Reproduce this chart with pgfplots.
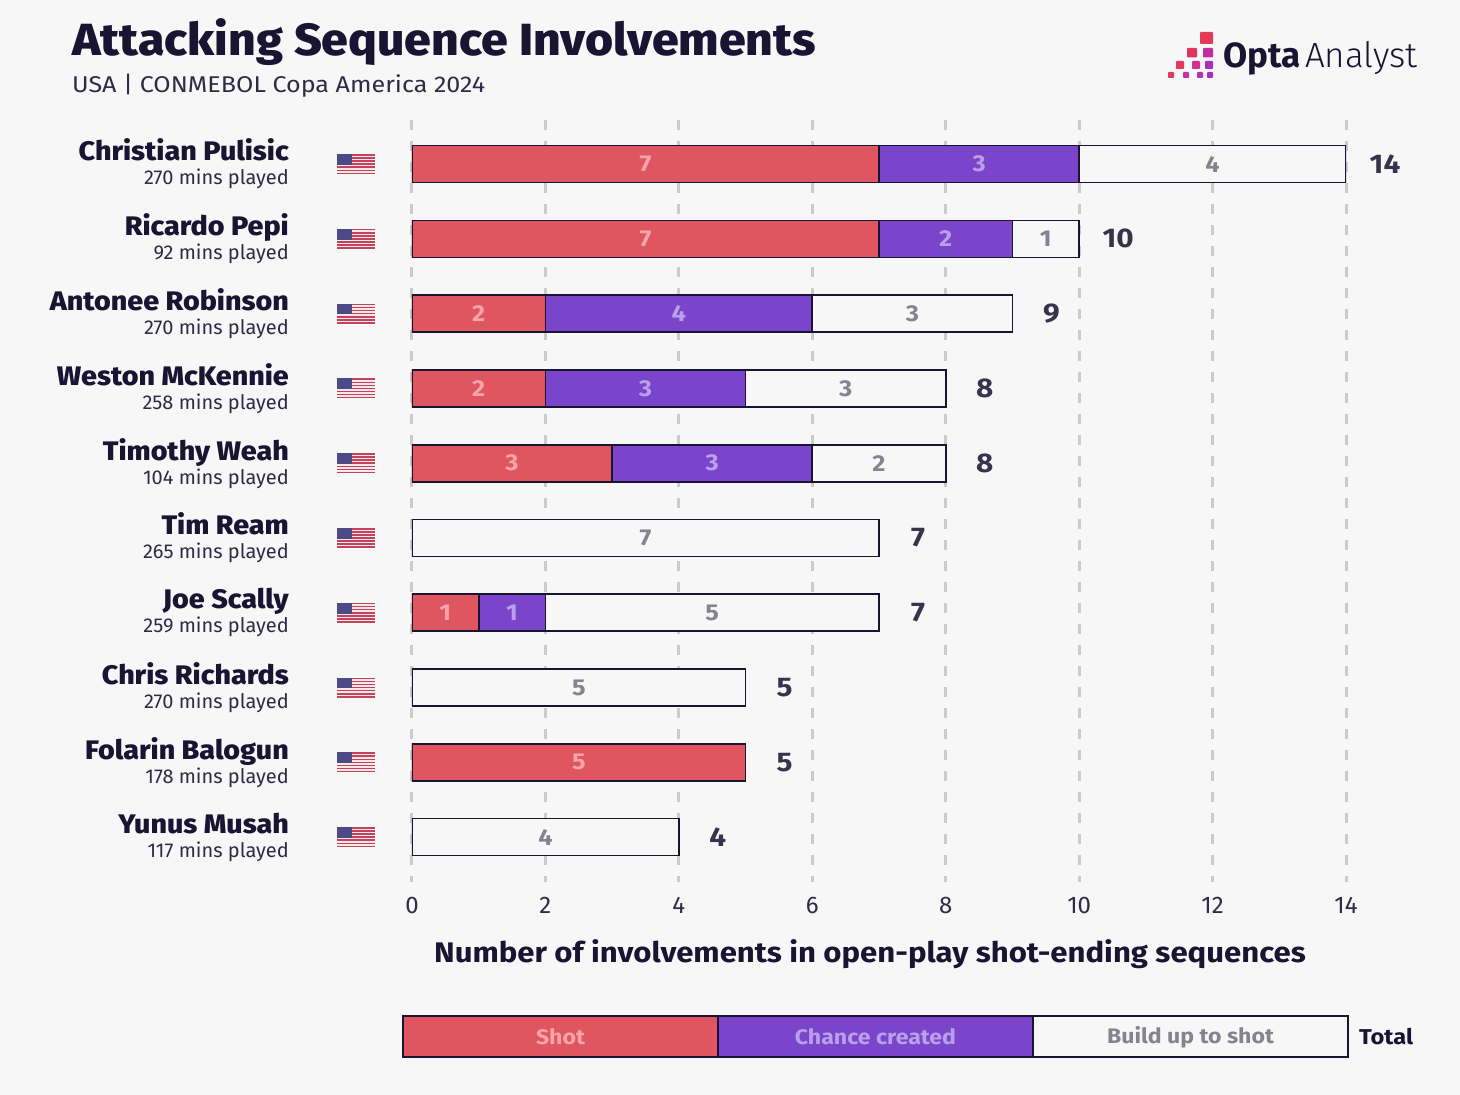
\documentclass[border=0pt]{standalone}
\usepackage{fontspec}
\usepackage{pgfplots}
\usepackage{pgfplotstable}
\pgfplotsset{compat=1.18}
\setmainfont[FakeStretch=1.1]{Fira Sans}
\newfontfamily\plainfont{Fira Sans}
\newfontfamily\logolight{Fira Sans Light}
\newfontfamily\heavy[FakeStretch=1.07]{Fira Sans ExtraBold}
\definecolor{bg}{HTML}{F7F7F8}
\definecolor{shot}{HTML}{DF5660}
\definecolor{chance}{HTML}{7B45CB}
\definecolor{ink}{HTML}{1A1433}
\definecolor{inksoft}{HTML}{2F2B45}
\definecolor{tot}{HTML}{37334C}
\definecolor{gridc}{HTML}{CBCBCC}
\definecolor{shotl}{HTML}{F7A3A8}
\definecolor{chancel}{HTML}{B9A0EA}
\definecolor{buildl}{HTML}{86838F}
\definecolor{flagr}{HTML}{C2445C}
\definecolor{flagw}{HTML}{F8E6E8}
\definecolor{flagb}{HTML}{4B4A85}
\newcommand{\pl}[2]{{\heavy\fontsize{26.8}{30}\selectfont\color{ink}#1}\\{\plainfont\fontsize{20}{23}\selectfont\color{inksoft}#2 mins played}}
\pgfdeclareplotmark{usflag}{%
  \pgfsetstrokecolor{flagw}\pgfsetfillcolor{flagw}
  \pgfpathrectangle{\pgfpoint{-19pt}{-10pt}}{\pgfpoint{38pt}{20pt}}\pgfusepath{fill}
  \pgfsetfillcolor{flagr}
  \foreach \k in {0,2,4,6,8,10,12}{%
    \pgfpathrectangle{\pgfpoint{-19pt}{-10pt+\k*1.5385pt}}{\pgfpoint{38pt}{1.5385pt}}\pgfusepath{fill}}
  \pgfsetfillcolor{flagb}
  \pgfpathrectangle{\pgfpoint{-19pt}{-0.8pt}}{\pgfpoint{15pt}{10.8pt}}\pgfusepath{fill}
}
\pgfplotstableread{
i shot chance build total
0 7 3 4 14
1 7 2 1 10
2 2 4 3 9
3 2 3 3 8
4 3 3 2 8
5 0 0 7 7
6 1 1 5 7
7 0 0 5 5
8 5 0 0 5
9 0 0 4 4
}\datatable
\pgfplotstableread{
m i l
3.5 0 7
3.5 1 7
1 2 2
1 3 2
1.5 4 3
0.5 6 1
2.5 8 5
}\shotlabels
\pgfplotstableread{
m i l
8.5 0 3
8 1 2
4 2 4
3.5 3 3
4.5 4 3
1.5 6 1
}\chancelabels
\pgfplotstableread{
m i l
12 0 4
9.5 1 1
7.5 2 3
6.5 3 3
7 4 2
3.5 5 7
4.5 6 5
2.5 7 5
2 9 4
}\buildlabels
\pgfplotstableread{
x i
-0.84 0
-0.84 1
-0.84 2
-0.84 3
-0.84 4
-0.84 5
-0.84 6
-0.84 7
-0.84 8
-0.84 9
}\flags
\pgfplotsset{base/.style={
  scale only axis, width=934pt, height=762pt,
  at={(412pt,213pt)}, anchor=south west,
  xmin=0, xmax=14, ymin=-0.59, ymax=9.6, y dir=reverse}}
\begin{document}
\begin{tikzpicture}[x=1pt,y=1pt]
\path[use as bounding box] (0,0) rectangle (1460,1095);
\fill[bg] (0,0) rectangle (1460,1095);
\begin{axis}[base,
  xbar stacked, bar width=37pt,
  axis line style={draw=none},
  major tick length=0pt,
  xtick={0,2,...,14}, ytick={0,...,9},
  xmajorgrids,
  grid style={gridc, line width=3pt, dash pattern=on 10pt off 11pt},
  /pgf/number format/assume math mode=true,
  xticklabel style={font=\plainfont\fontsize{24}{28}\selectfont, text=inksoft, yshift=-12pt},
  yticklabels={
    \pl{Christian Pulisic}{270},\pl{Ricardo Pepi}{92},\pl{Antonee Robinson}{270},
    \pl{Weston McKennie}{258},\pl{Timothy Weah}{104},\pl{Tim Ream}{265},
    \pl{Joe Scally}{259},\pl{Chris Richards}{270},\pl{Folarin Balogun}{178},\pl{Yunus Musah}{117}},
  yticklabel style={font=\fontsize{20}{24}\selectfont, align=right, anchor=east, inner xsep=0pt, xshift=-123pt},
]
\addplot[fill=shot, draw=ink, line width=1.6pt] table[x=shot,y=i] {\datatable};
\addplot[fill=chance, draw=ink, line width=1.6pt] table[x=chance,y=i] {\datatable};
\addplot[fill=bg, draw=ink, line width=1.6pt] table[x=build,y=i] {\datatable};
\end{axis}
\begin{axis}[base, hide axis, clip=false,
  nodes near coords style={anchor=center, font=\fontsize{23}{26}\selectfont\bfseries}]
\addplot[draw=none, mark=usflag, only marks] table[x=x,y=i] {\flags};
\addplot[draw=none, mark=none, point meta=explicit symbolic, nodes near coords, nodes near coords style={text=shotl}] table[x=m,y=i,meta=l] {\shotlabels};
\addplot[draw=none, mark=none, point meta=explicit symbolic, nodes near coords, nodes near coords style={text=chancel}] table[x=m,y=i,meta=l] {\chancelabels};
\addplot[draw=none, mark=none, point meta=explicit symbolic, nodes near coords, nodes near coords style={text=buildl}] table[x=m,y=i,meta=l] {\buildlabels};
\addplot[draw=none, mark=none, point meta=explicit symbolic, nodes near coords, nodes near coords style={text=tot, xshift=39pt, font=\fontsize{27}{30}\selectfont\bfseries}] table[x=total,y=i,meta=total] {\datatable};
\end{axis}
% title
\node[anchor=base west, inner sep=0, text=ink, font=\heavy\fontsize{45}{48}\selectfont] at (72,1039) {Attacking Sequence Involvements};
\node[anchor=base west, inner sep=0, text=inksoft, font=\fontsize{22.8}{28}\selectfont] at (72,1002) {USA | CONMEBOL Copa America 2024};
% axis title
\node[anchor=base, inner sep=0, text=ink, font=\fontsize{28.3}{32}\selectfont\bfseries] at (870,132) {Number of involvements in open-play shot-ending sequences};
% legend
\foreach \a/\b/\c/\t/\l in {403/718/shot/Shot/shotl,718/1033/chance/Chance created/chancel,1033/1348/bg/Build up to shot/buildl}{
  \fill[\c,draw=ink,line width=1.6pt] (\a,38) rectangle (\b,79);
  \node[text=\l,font=\fontsize{21}{24}\selectfont\bfseries] at ({(\a+\b)/2},58) {\t};
}
\node[anchor=west,inner sep=0,text=ink,font=\fontsize{21.5}{25}\selectfont\bfseries] at (1359,58) {Total};
% logo
\foreach \x/\y/\w/\h/\c in {1200/32/13/12/E23A58,1187/48/10/9.5/E03560,1203/48/10/9.5/C22E9E,1176/61/8/8/E23A5C,1192/61/8/8/D23290,1205/61/8/8/A92EC2,1168/72/6/6/E03A62,1183/72/6/6/C8309A,1197/72/6/6/B030B8,1207/72/6/6/A52EC4}{
  \definecolor{tmpc}{HTML}{\c}
  \fill[tmpc,rounded corners=0.8pt] (\x,1095-\y) rectangle (\x+\w,1095-\y-\h);
}
\node[anchor=base west,inner sep=0,text=ink,font=\plainfont\fontsize{35}{40}\selectfont\bfseries] at (1223,1027) {Opta};
\node[anchor=base west,inner sep=0,text=ink,font=\fontsize{35}{40}\selectfont\logolight] at (1305,1027) {Analyst};
\end{tikzpicture}
\end{document}
